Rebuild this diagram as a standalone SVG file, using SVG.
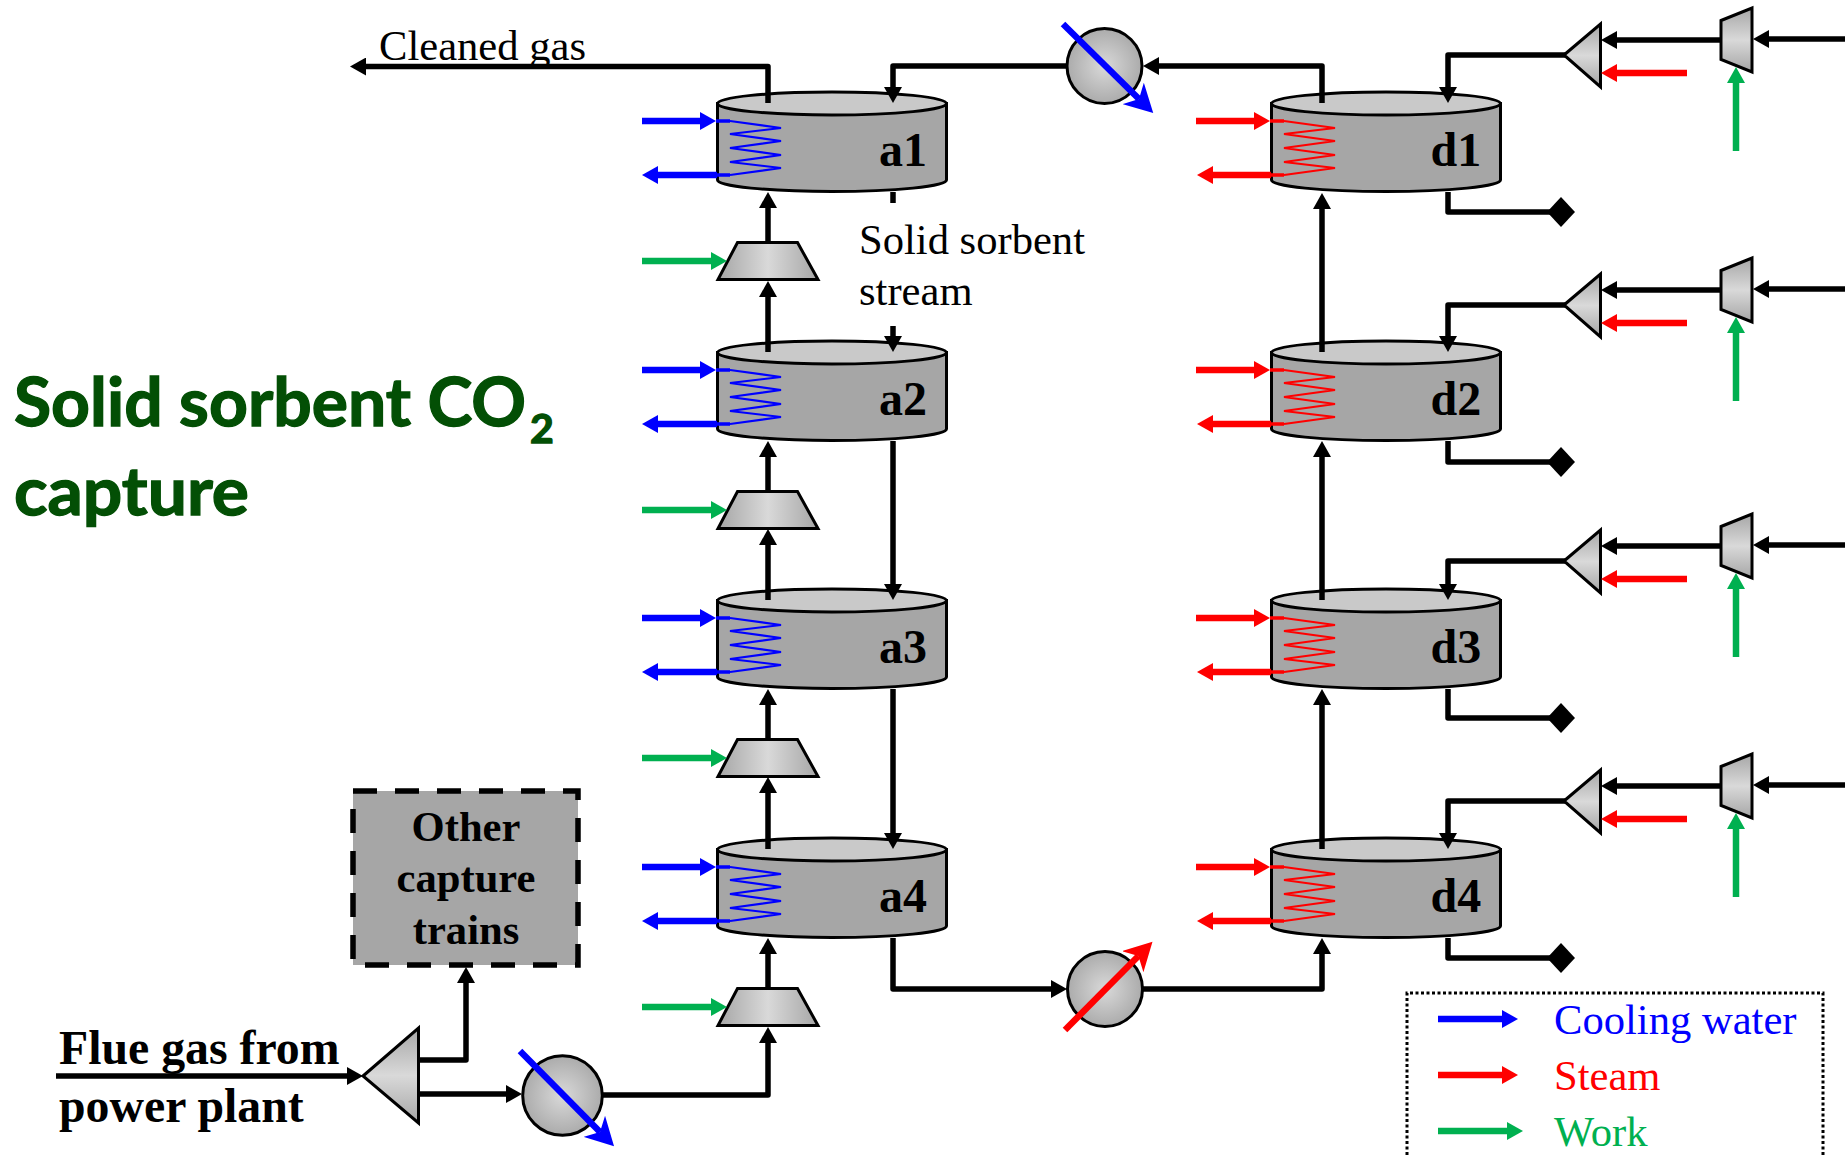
<svg xmlns="http://www.w3.org/2000/svg" width="1845" height="1155" viewBox="0 0 1845 1155">
<style>
text{font-family:"Liberation Serif","Times New Roman",serif;fill:#000}
.lb{font-size:47.8px;font-weight:700}
.vl{font-size:48px;font-weight:700}
.tx{font-size:42.6px}
.ot{font-size:42.6px;font-weight:700;text-anchor:middle}
.ti{font-family:Lato,"Noto Sans",sans-serif;font-weight:700;fill:#034f05;stroke:#034f05;stroke-width:1.300}
.sh{stroke:#000;stroke-width:3;stroke-linejoin:miter}
.k,.p,.b,.r,.g{fill:none;stroke-linejoin:round}
.k,.p{stroke:#000;stroke-width:5.500}
.k{marker-end:url(#hk)}
.b,.r,.g{stroke-width:6.500}
.b{stroke:#00f;marker-end:url(#hb)}
.r{stroke:#f00;marker-end:url(#hr)}
.g{stroke:#00b050;marker-end:url(#hg)}
.sb{stroke:#00f;stroke-width:3.500;fill:none}
.sr{stroke:#f00;stroke-width:3.500;fill:none}
.coil{fill:none;stroke-width:2.200}
</style>
<defs>
<linearGradient id="gh" x1="0" x2="1" y1="0" y2="0"><stop offset="0" stop-color="#a6a6a6"/><stop offset=".5" stop-color="#d9d9d9"/><stop offset="1" stop-color="#a6a6a6"/></linearGradient>
<linearGradient id="gv" x1="0" x2="0" y1="0" y2="1"><stop offset="0" stop-color="#a6a6a6"/><stop offset=".5" stop-color="#d9d9d9"/><stop offset="1" stop-color="#a6a6a6"/></linearGradient>
<radialGradient id="gr"><stop offset="0" stop-color="#d9d9d9"/><stop offset="1" stop-color="#ababab"/></radialGradient>
<marker id="hk" markerUnits="userSpaceOnUse" markerWidth="17" markerHeight="18" refX="0" refY="9" orient="auto"><path d="M0 0L16 9L0 18z" fill="#000"/></marker>
<marker id="hb" markerUnits="userSpaceOnUse" markerWidth="17" markerHeight="18" refX="0" refY="9" orient="auto"><path d="M0 0L16 9L0 18z" fill="#00f"/></marker>
<marker id="hr" markerUnits="userSpaceOnUse" markerWidth="17" markerHeight="18" refX="0" refY="9" orient="auto"><path d="M0 0L16 9L0 18z" fill="#f00"/></marker>
<marker id="hg" markerUnits="userSpaceOnUse" markerWidth="17" markerHeight="18" refX="0" refY="9" orient="auto"><path d="M0 0L16 9L0 18z" fill="#00b050"/></marker>
<marker id="hxb" markerUnits="userSpaceOnUse" markerWidth="29" markerHeight="30" refX="8" refY="15" orient="auto"><path d="M0 0L28 15L0 30L8 15z" fill="#00f"/></marker>
<marker id="hxr" markerUnits="userSpaceOnUse" markerWidth="29" markerHeight="30" refX="8" refY="15" orient="auto"><path d="M0 0L28 15L0 30L8 15z" fill="#f00"/></marker>
<g id="vessel">
<path class="sh" d="M717.500 103.500V180A114.500 11.500 0 0 0 946.500 180V103.500z" fill="#a6a6a6"/>
<ellipse class="sh" cx="832" cy="103.500" rx="114.500" ry="11.500" fill="#c9c9c9"/>
</g>
<polyline id="coil" class="coil" points="730,121 781,128 730,134 781,141 730,148 781,155 730,162 781,168 730,175"/>
<polygon id="comp" class="sh" points="737.500,242.500 797.500,242.500 818,279.500 718,279.500" fill="url(#gh)"/>
<polygon id="split" class="sh" points="1564,55 1600.500,24 1600.500,87" fill="url(#gv)"/>
<polygon id="turb" class="sh" points="1721,20.500 1752,8 1752,72 1721,59.500" fill="url(#gv)"/>
<polygon id="dia" points="1547,212 1561,197 1575,212 1561,227" fill="#000"/>
</defs>

<rect width="1845" height="1155" fill="#fff"/>

<g id="title">
<text class="ti" x="14" y="426" font-size="66" textLength="512" lengthAdjust="spacingAndGlyphs">Solid sorbent CO</text>
<text class="ti" x="530" y="443" font-size="41">2</text>
<text class="ti" x="14" y="515" font-size="66" textLength="235" lengthAdjust="spacingAndGlyphs">capture</text>
</g>

<g id="a1"><use href="#vessel"/><use href="#coil" stroke="#00f"/><text class="vl" x="879" y="165.500">a1</text></g>
<g id="a2" transform="translate(0,249)"><use href="#vessel"/><use href="#coil" stroke="#00f"/><text class="vl" x="879" y="165.500">a2</text></g>
<g id="a3" transform="translate(0,497)"><use href="#vessel"/><use href="#coil" stroke="#00f"/><text class="vl" x="879" y="165.500">a3</text></g>
<g id="a4" transform="translate(0,746)"><use href="#vessel"/><use href="#coil" stroke="#00f"/><text class="vl" x="879" y="165.500">a4</text></g>
<g id="d1" transform="translate(554,0)"><use href="#vessel"/><use href="#coil" stroke="#f00"/><text class="vl" x="876.500" y="165.500">d1</text></g>
<g id="d2" transform="translate(554,249)"><use href="#vessel"/><use href="#coil" stroke="#f00"/><text class="vl" x="876.500" y="165.500">d2</text></g>
<g id="d3" transform="translate(554,497)"><use href="#vessel"/><use href="#coil" stroke="#f00"/><text class="vl" x="876.500" y="165.500">d3</text></g>
<g id="d4" transform="translate(554,746)"><use href="#vessel"/><use href="#coil" stroke="#f00"/><text class="vl" x="876.500" y="165.500">d4</text></g>

<g id="comp1"><use href="#comp"/></g>
<g id="comp2" transform="translate(0,249)"><use href="#comp"/></g>
<g id="comp3" transform="translate(0,497)"><use href="#comp"/></g>
<g id="comp4" transform="translate(0,746)"><use href="#comp"/></g>

<g id="split1"><use href="#split"/></g>
<g id="split2" transform="translate(0,250)"><use href="#split"/></g>
<g id="split3" transform="translate(0,506)"><use href="#split"/></g>
<g id="split4" transform="translate(0,746)"><use href="#split"/></g>
<g id="turb1"><use href="#turb"/></g>
<g id="turb2" transform="translate(0,250)"><use href="#turb"/></g>
<g id="turb3" transform="translate(0,506)"><use href="#turb"/></g>
<g id="turb4" transform="translate(0,746)"><use href="#turb"/></g>
<g id="out1"><use href="#dia"/></g>
<g id="out2" transform="translate(0,250)"><use href="#dia"/></g>
<g id="out3" transform="translate(0,506)"><use href="#dia"/></g>
<g id="out4" transform="translate(0,746)"><use href="#dia"/></g>

<g id="other">
<rect x="353" y="791" width="225" height="174" fill="#a6a6a6" stroke="#000" stroke-width="5.500" stroke-dasharray="24 18"/>
<text class="ot" x="466" y="841">Other</text>
<text class="ot" x="466" y="892">capture</text>
<text class="ot" x="466" y="944">trains</text>
</g>

<g id="split0"><polygon class="sh" points="363,1076 418.500,1028 418.500,1123" fill="url(#gv)"/></g>

<g id="connectors">
<path class="k" d="M1322 103V66H1159"/>
<path class="k" d="M1066 66H893V87"/>
<path class="k" d="M768 103V66.500H366"/>
<path class="p" d="M893 192V203"/>
<path class="k" d="M893 326V336"/>
<path class="k" d="M893 441V584"/>
<path class="k" d="M893 689V833"/>
<path class="k" d="M893 938V989H1051"/>
<path class="k" d="M768 242V208"/>
<path class="k" d="M768 352V297"/>
<path class="k" d="M768 491V457"/>
<path class="k" d="M768 600V545"/>
<path class="k" d="M768 739V705"/>
<path class="k" d="M768 849V793"/>
<path class="k" d="M768 988V954"/>
<path class="k" d="M603 1095H768V1043"/>
<path class="k" d="M1322 352V209"/>
<path class="k" d="M1322 600V457"/>
<path class="k" d="M1322 849V705"/>
<path class="k" d="M1143 989H1322V954"/>
<path class="k" d="M56 1076H347"/>
<path class="k" d="M419 1060H466V983"/>
<path class="k" d="M419 1094H506"/>
<path class="k" d="M1565 55H1448V87"/>
<path class="k" d="M1565 305H1448V336"/>
<path class="k" d="M1565 561H1448V584"/>
<path class="k" d="M1565 801H1448V833"/>
<path class="p" d="M1448 192V212H1550"/>
<path class="p" d="M1448 441V462H1550"/>
<path class="p" d="M1448 689V718H1550"/>
<path class="p" d="M1448 938V958H1550"/>
<path class="k" d="M1721 40H1617"/>
<path class="k" d="M1721 290H1617"/>
<path class="k" d="M1721 546H1617"/>
<path class="k" d="M1721 786H1617"/>
<path class="k" d="M1845 39H1769"/>
<path class="k" d="M1845 289H1769"/>
<path class="k" d="M1845 545H1769"/>
<path class="k" d="M1845 785H1769"/>
<path class="r" d="M1687 73H1617"/>
<path class="r" d="M1687 323H1617"/>
<path class="r" d="M1687 579H1617"/>
<path class="r" d="M1687 819H1617"/>
<path class="g" d="M1736 151V83"/>
<path class="g" d="M1736 401V333"/>
<path class="g" d="M1736 657V589"/>
<path class="g" d="M1736 897V829"/>
<path class="b" d="M642 121H700"/><path class="sb" d="M716 121H730M717 175H730"/><path class="b" d="M717 175H658"/>
<path class="b" d="M642 370H700"/><path class="sb" d="M716 370H730M717 424H730"/><path class="b" d="M717 424H658"/>
<path class="b" d="M642 618H700"/><path class="sb" d="M716 618H730M717 672H730"/><path class="b" d="M717 672H658"/>
<path class="b" d="M642 867H700"/><path class="sb" d="M716 867H730M717 921H730"/><path class="b" d="M717 921H658"/>
<path class="r" d="M1196 121H1254"/><path class="sr" d="M1270 121H1284M1271 175H1284"/><path class="r" d="M1271 175H1213"/>
<path class="r" d="M1196 370H1254"/><path class="sr" d="M1270 370H1284M1271 424H1284"/><path class="r" d="M1271 424H1213"/>
<path class="r" d="M1196 618H1254"/><path class="sr" d="M1270 618H1284M1271 672H1284"/><path class="r" d="M1271 672H1213"/>
<path class="r" d="M1196 867H1254"/><path class="sr" d="M1270 867H1284M1271 921H1284"/><path class="r" d="M1271 921H1213"/>
<path class="g" d="M642 261H711"/>
<path class="g" d="M642 510H711"/>
<path class="g" d="M642 758H711"/>
<path class="g" d="M642 1007H711"/>
</g>

<g id="hx1"><circle class="sh" cx="1104.500" cy="66" r="37.500" fill="url(#gr)"/><path d="M1063 24L1139 99" fill="none" stroke="#00f" stroke-width="6.500" marker-end="url(#hxb)"/></g>
<g id="hx2"><circle class="sh" cx="1105" cy="989" r="37.500" fill="url(#gr)"/><path d="M1065 1030L1138.400 956" fill="none" stroke="#f00" stroke-width="6.500" marker-end="url(#hxr)"/></g>
<g id="hx3"><circle class="sh" cx="562.500" cy="1095.500" r="39.800" fill="url(#gr)"/><path d="M520 1051L600 1132" fill="none" stroke="#00f" stroke-width="6.500" marker-end="url(#hxb)"/></g>

<g id="labels">
<text class="tx" x="379" y="60">Cleaned gas</text>
<text class="tx" x="859" y="254">Solid sorbent</text>
<text class="tx" x="859" y="305">stream</text>
<text class="lb" x="59" y="1064">Flue gas from</text>
<text class="lb" x="59" y="1122">power plant</text>
</g>

<g id="legend">
<path d="M1407 1155V993H1823V1155" fill="none" stroke="#000" stroke-width="3" stroke-dasharray="3 2.500"/>
<path class="b" d="M1438 1019H1502"/>
<path class="r" d="M1438 1075H1502"/>
<path class="g" d="M1438 1131H1507"/>
<text class="tx" x="1554" y="1034" style="fill:#00f">Cooling water</text>
<text class="tx" x="1554" y="1090" style="fill:#f00">Steam</text>
<text class="tx" x="1554" y="1146" style="fill:#00b050">Work</text>
</g>
</svg>
